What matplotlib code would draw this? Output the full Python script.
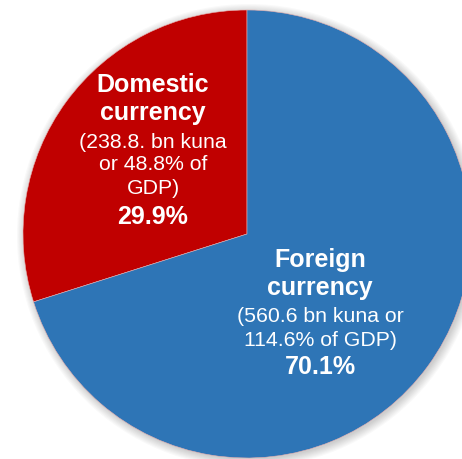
import numpy as np
import matplotlib.pyplot as plt
from matplotlib.patches import Circle

# Currency structure of debt
labels = ['Domestic currency', 'Foreign currency']
shares = [29.9, 70.1]
amounts = [238.8, 560.6]      # bn kuna
gdp_pct = [48.8, 114.6]       # % of GDP
colors = ['#C00000', '#2E75B6']

plt.rcParams['font.family'] = ['Liberation Sans', 'DejaVu Sans']

fig = plt.figure(figsize=(4.62, 4.59), dpi=100)
fig.patch.set_facecolor('white')
ax = fig.add_axes([23 / 462, 1 / 459, 448 / 462, 448 / 459])

# soft shadow behind the pie
for i in range(8):
    r = 1.0 + 0.005 * i
    ax.add_patch(Circle((0.008, -0.008), r, facecolor='black', edgecolor='none',
                        alpha=0.025, zorder=0, clip_on=False))

wedges, _ = ax.pie(shares, colors=colors, startangle=90, counterclock=True,
                   radius=1.0, wedgeprops=dict(linewidth=0.4, edgecolor='#e8b0b0'))
for w in wedges:
    w.set_clip_on(False)
    w.set_zorder(2)

ax.set_xlim(-1, 1)
ax.set_ylim(-1, 1)
ax.axis('off')


def px(x, y):
    return (x - 247) / 224, (234 - y) / 224


BIG, SMALL = 18, 15.3

# Domestic currency label
dom = [('Domestic', 'bold', BIG, 85),
       ('currency', 'bold', BIG, 113),
       ('(%.1f. bn kuna' % amounts[0], 'normal', SMALL, 142),
       ('or %.1f%% of' % gdp_pct[0], 'normal', SMALL, 165),
       ('GDP)', 'normal', SMALL, 189),
       ('%.1f%%' % shares[0], 'bold', BIG, 217)]
for txt, wt, fs, y in dom:
    x0, y0 = px(153, y)
    ax.text(x0, y0, txt, color='white', fontsize=fs, fontweight=wt,
            ha='center', va='center', zorder=5)

# Foreign currency label
fx = [('Foreign', 'bold', BIG, 260),
      ('currency', 'bold', BIG, 288),
      ('(%.1f bn kuna or' % amounts[1], 'normal', SMALL, 316),
      ('%.1f%% of GDP)' % gdp_pct[1], 'normal', SMALL, 340),
      ('%.1f%%' % shares[1], 'bold', BIG, 367)]
for txt, wt, fs, y in fx:
    x0, y0 = px(320, y)
    ax.text(x0, y0, txt, color='white', fontsize=fs, fontweight=wt,
            ha='center', va='center', zorder=5)

fig.savefig('out.png', dpi=100, facecolor='white')
